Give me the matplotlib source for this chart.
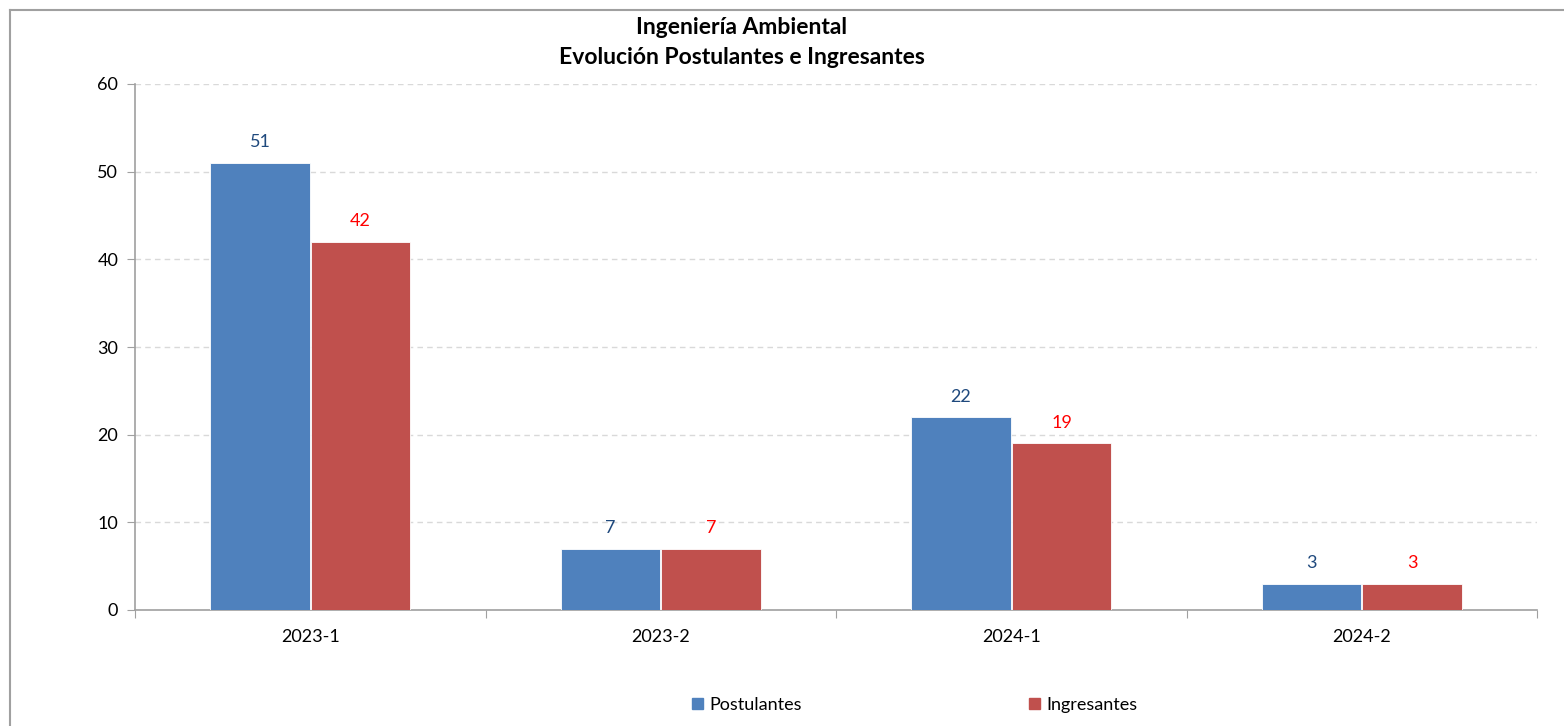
import numpy as np
import matplotlib.pyplot as plt
from matplotlib.lines import Line2D
from matplotlib.patches import Patch

# data
periodos = ['2023-1', '2023-2', '2024-1', '2024-2']
postulantes = [51, 7, 22, 3]
ingresantes = [42, 7, 19, 3]

plt.rcParams['font.family'] = ['Lato', 'DejaVu Sans']

W, H = 1564, 726
fig = plt.figure(figsize=(W / 100, H / 100), dpi=100)
ax = fig.add_axes([135 / W, 1 - 610 / H, (1537 - 135) / W, (610 - 84) / H])

x = np.arange(len(periodos))
width = 0.283
off = width / 2 + 0.002
c_post, c_ing = '#4F81BD', '#C0504D'

bars1 = ax.bar(x - off, postulantes, width, color=c_post, edgecolor='white', linewidth=0.6, zorder=3)
bars2 = ax.bar(x + off, ingresantes, width, color=c_ing, edgecolor='white', linewidth=0.6, zorder=3)

for bars, col in ((bars1, '#1F497D'), (bars2, '#FF0000')):
    for b in bars:
        ax.annotate(f'{int(b.get_height())}',
                    xy=(b.get_x() + b.get_width() / 2, b.get_height()),
                    xytext=(0, 9), textcoords='offset points',
                    ha='center', va='bottom', fontsize=13, color=col)

ax.set_xlim(-0.5, len(periodos) - 0.5)
ax.set_ylim(0, 60)
ax.set_yticks(np.arange(0, 61, 10))
ax.grid(True, axis='y', color='#D9D9D9', linestyle=(0, (4, 3)), linewidth=1, zorder=0)

# category labels centered, tick marks at separators
ax.set_xticks(np.arange(-0.5, len(periodos), 1))
ax.set_xticklabels([])
ax.set_xticks(x, minor=True)
ax.set_xticklabels(periodos, minor=True, fontsize=13)
ax.tick_params(axis='x', which='minor', length=0, pad=14)
ax.tick_params(axis='x', which='major', length=6, color='#A0A0A0', direction='out')
ax.tick_params(axis='y', length=6, color='#A0A0A0', labelsize=13, pad=6)

for s in ('top', 'right'):
    ax.spines[s].set_visible(False)
for s in ('left', 'bottom'):
    ax.spines[s].set_color('#A0A0A0')
    ax.spines[s].set_linewidth(1.2)

fig.text(742 / W, 1 - 28 / H, 'Ingeniería Ambiental', ha='center', va='center',
         fontsize=16.5, fontweight='bold')
fig.text(742 / W, 1 - 58 / H, 'Evolución Postulantes e Ingresantes', ha='center', va='center',
         fontsize=16.5, fontweight='bold')

handles = [Patch(color=c_post, label='Postulantes'), Patch(color=c_ing, label='Ingresantes')]
fig.legend(handles=handles, loc='center', bbox_to_anchor=(915 / W, 1 - 705 / H), ncol=2,
           frameon=False, fontsize=13, handlelength=0.6, handleheight=0.6,
           handletextpad=0.35, columnspacing=12.6)

# outer frame (top and left edges visible)
fig.add_artist(Line2D([10 / W, 10 / W], [0, 1 - 10 / H], transform=fig.transFigure,
                      color='#A0A0A0', linewidth=1.5))
fig.add_artist(Line2D([10 / W, 1], [1 - 10 / H, 1 - 10 / H], transform=fig.transFigure,
                      color='#A0A0A0', linewidth=1.5))

fig.savefig('out.png', dpi=100)
plt.close()
